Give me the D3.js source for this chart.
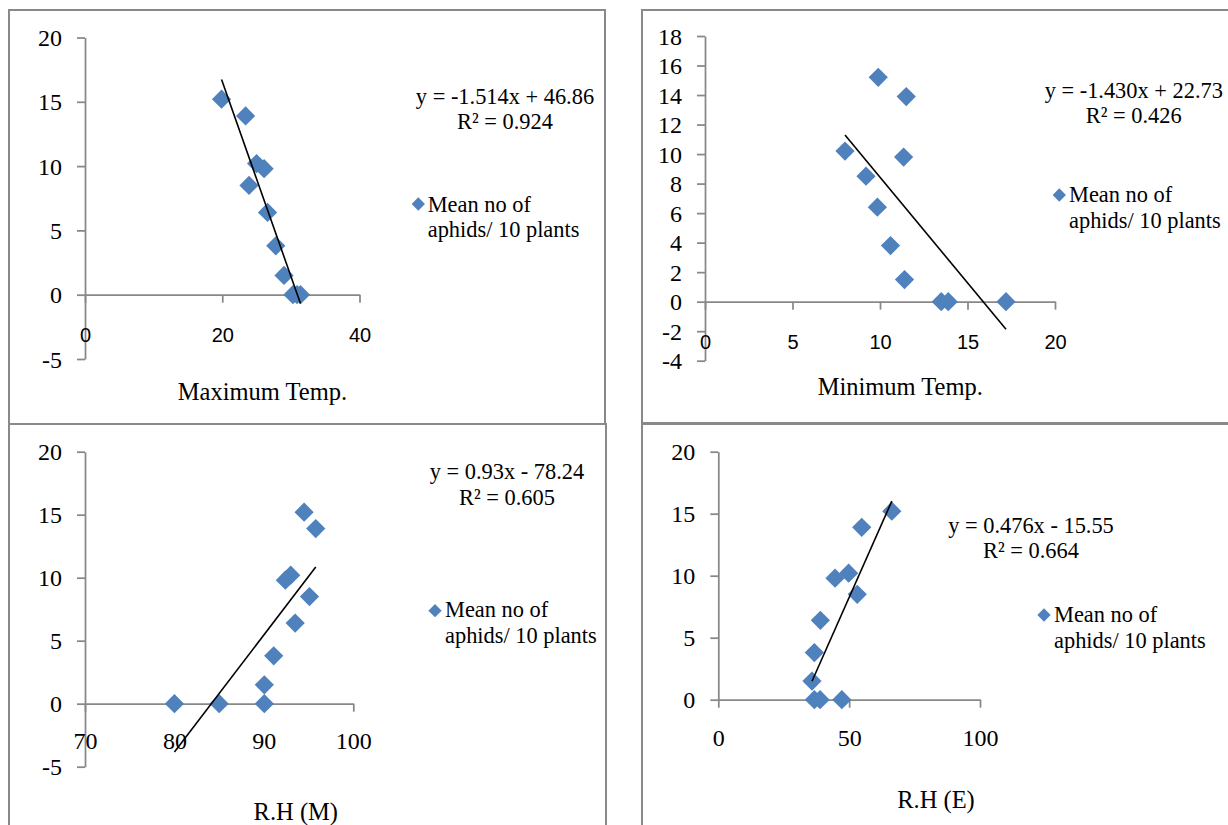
<!DOCTYPE html>
<html>
<head>
<meta charset="utf-8">
<script src="https://cdn.jsdelivr.net/npm/d3@7"></script>
<style>
  html, body { margin: 0; padding: 0; background: #fff; }
  svg { display: block; }
</style>
</head>
<body>
<svg id="chart" width="1228" height="825"></svg>
<script>
// ---------------- DATA ----------------
const aphids   = [15.2, 13.9, 10.2, 9.8, 8.5, 6.4, 3.8, 1.5, 0, 0, 0];
const maxTemp  = [19.9, 23.4, 25.0, 26.1, 23.9, 26.6, 27.8, 29.0, 30.3, 30.9, 31.4];
const minTemp  = [9.9, 11.5, 8.0, 11.35, 9.2, 9.85, 10.6, 11.4, 13.5, 13.9, 17.2];
const rhM      = [94.5, 95.8, 93.0, 92.4, 95.1, 93.5, 91.1, 90.05, 80, 85, 90.05];
const rhE      = [66.3, 54.8, 49.8, 44.6, 53.1, 39.0, 36.7, 35.8, 36.7, 38.9, 47.2];

const slopes     = [-1.514, -1.430, 0.93, 0.476];
const intercepts = [46.86, 22.73, -78.24, -15.55];
const eqLabels   = ["y = -1.514x + 46.86", "y = -1.430x + 22.73", "y = 0.93x - 78.24", "y = 0.476x - 15.55"];
const r2Labels   = ["R\u00B2 = 0.924", "R\u00B2 = 0.426", "R\u00B2 = 0.605", "R\u00B2 = 0.664"];
const xTitles    = ["Maximum Temp.", "Minimum Temp.", "R.H (M)", "R.H (E)"];
const seriesName = ["Mean no of", "aphids/ 10 plants"];

const xTickSets = [[0, 20, 40], [0, 5, 10, 15, 20], [70, 80, 90, 100], [0, 50, 100]];
const yTickSets = [[-5, 0, 5, 10, 15, 20], [-4, -2, 0, 2, 4, 6, 8, 10, 12, 14, 16, 18], [-5, 0, 5, 10, 15, 20], [0, 5, 10, 15, 20]];
const xDomains  = [[0, 40], [0, 20], [70, 100], [0, 100]];
const yDomains  = [[-5, 20], [-4, 18], [-5, 20], [0, 20]];
const xValues   = [maxTemp, minTemp, rhM, rhE];

// ---------------- LAYOUT ----------------
const layout = [
  { frame: [9, 10, 596, 414], xr: [85, 359.5], yr: [359, 37.5], xFont: "sans", xOff: 47,
    eq: [505, 104.3, 129.3], leg: [418.3, 204, 427.7, 211.7, 236.7], title: [262.5, 400] },
  { frame: [642, 10, 620, 413], xr: [705, 1055], yr: [360.7, 36], xFont: "sans", xOff: 47.3,
    eq: [1133.8, 98.3, 122.7], leg: [1059.3, 195, 1069, 201.7, 228.3], title: [900.3, 395] },
  { frame: [9, 424, 597, 420], xr: [85, 353.3], yr: [766.7, 451.7], xFont: "serif", xOff: 45,
    eq: [507, 479.3, 505], leg: [435, 610.7, 445, 616.7, 643.3], title: [295.8, 820] },
  { frame: [642, 424, 620, 420], xr: [718.3, 980], yr: [699.7, 451.7], xFont: "serif", xOff: 46.3,
    eq: [1031, 533.3, 558.3], leg: [1044, 615, 1054, 621.7, 648.3], title: [936, 808.3] }
];

const SERIF = "'Liberation Serif', 'Times New Roman', serif";
const SANS  = "'Liberation Sans', Arial, sans-serif";
const AXIS_COLOR = "#888888";
const MARK_COLOR = "#4F81BD";

const svg = d3.select("#chart");

// frames
layout.forEach(L => {
  svg.append("rect")
    .attr("x", L.frame[0]).attr("y", L.frame[1])
    .attr("width", L.frame[2]).attr("height", L.frame[3])
    .attr("fill", "none").attr("stroke", "#898989").attr("stroke-width", 2);
});

const diamond = d3.symbol().type(d3.symbolSquare).size(185);
const diamondSmall = d3.symbol().type(d3.symbolSquare).size(88);

layout.forEach((L, i) => {
  const x = d3.scaleLinear().domain(xDomains[i]).range(L.xr);
  const y = d3.scaleLinear().domain(yDomains[i]).range(L.yr);
  const g = svg.append("g");

  // y axis
  const yAxisG = g.append("g")
    .attr("transform", `translate(${x(xDomains[i][0])},0)`)
    .call(d3.axisLeft(y).tickValues(yTickSets[i]).tickSize(8).tickSizeOuter(0).tickPadding(15)
      .tickFormat(d3.format("d")));
  yAxisG.attr("font-family", null).attr("font-size", null);
  yAxisG.selectAll("path.domain, line").attr("stroke", AXIS_COLOR).attr("stroke-width", 1.75);
  yAxisG.selectAll("text")
    .style("font-family", SERIF).style("font-size", "24px").attr("fill", "#000")
    .attr("dy", "0.34em")
    .text(d => d < 0 ? "-" + Math.abs(d) : d);

  // x axis at y = 0
  const xAxisG = g.append("g")
    .attr("transform", `translate(0,${y(0)})`)
    .call(d3.axisBottom(x).tickValues(xTickSets[i]).tickSize(8).tickSizeOuter(0).tickFormat(d3.format("d")));
  xAxisG.attr("font-family", null).attr("font-size", null);
  xAxisG.selectAll("path.domain, line").attr("stroke", AXIS_COLOR).attr("stroke-width", 1.75);
  xAxisG.selectAll("text")
    .style("font-family", L.xFont === "sans" ? SANS : SERIF)
    .style("font-size", L.xFont === "sans" ? "20px" : "24px")
    .attr("fill", "#000")
    .attr("y", L.xOff).attr("dy", 0);
  xAxisG.select("path.domain").raise();

  // points
  const pts = xValues[i].map((xv, k) => ({ x: xv, y: aphids[k] }));
  g.append("g").selectAll("path.pt")
    .data(pts).join("path")
    .attr("class", "pt")
    .attr("d", diamond)
    .attr("fill", MARK_COLOR)
    .attr("transform", d => `translate(${x(d.x)},${y(d.y)}) rotate(45)`);

  // trendline
  const [xmin, xmax] = d3.extent(xValues[i]);
  const f = v => slopes[i] * v + intercepts[i];
  g.append("line")
    .attr("x1", x(xmin)).attr("y1", y(f(xmin)))
    .attr("x2", x(xmax)).attr("y2", y(f(xmax)))
    .attr("stroke", "#000").attr("stroke-width", 1.6);

  // equation
  g.append("text").attr("x", L.eq[0]).attr("y", L.eq[1])
    .attr("text-anchor", "middle").style("font-family", SERIF).style("font-size", "22.4px")
    .text(eqLabels[i]);
  g.append("text").attr("x", L.eq[0]).attr("y", L.eq[2])
    .attr("text-anchor", "middle").style("font-family", SERIF).style("font-size", "22.4px")
    .text(r2Labels[i]);

  // legend
  g.append("path").attr("d", diamondSmall).attr("fill", MARK_COLOR)
    .attr("transform", `translate(${L.leg[0]},${L.leg[1]}) rotate(45)`);
  g.append("text").attr("x", L.leg[2]).attr("y", L.leg[3])
    .style("font-family", SERIF).style("font-size", "22.4px").text(seriesName[0]);
  g.append("text").attr("x", L.leg[2]).attr("y", L.leg[4])
    .style("font-family", SERIF).style("font-size", "22.4px").text(seriesName[1]);

  // axis title
  g.append("text").attr("x", L.title[0]).attr("y", L.title[1])
    .attr("text-anchor", "middle").style("font-family", SERIF).style("font-size", "24.5px")
    .text(xTitles[i]);
});
</script>
</body>
</html>
